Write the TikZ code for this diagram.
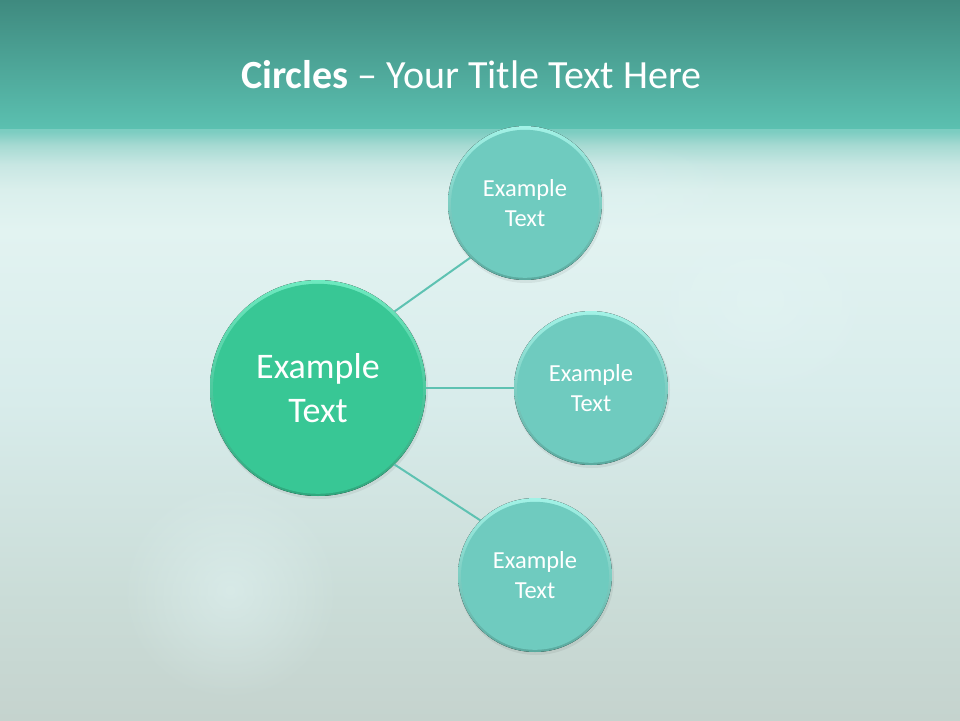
\documentclass[tikz,border=0pt]{standalone}
\usepackage{fontspec}
\setmainfont{Carlito}
\usetikzlibrary{shadings,fadings}
\definecolor{bandtop}{HTML}{3F8A7F}
\definecolor{bandbot}{HTML}{5BC0B0}
\definecolor{bgA}{HTML}{7CCDC1}
\definecolor{bgB}{HTML}{A5DAD2}
\definecolor{bgC}{HTML}{C8E7E3}
\definecolor{bgC2}{HTML}{DAEFEC}
\definecolor{bgD}{HTML}{E2F3F1}
\definecolor{bgE}{HTML}{D8ECEB}
\definecolor{bgF}{HTML}{CADCD7}
\definecolor{bgG}{HTML}{C5D3CE}
\definecolor{smallfill}{HTML}{6FCBBF}
\definecolor{smalllight}{HTML}{A2F2E6}
\definecolor{smalldark}{HTML}{5AAA9F}
\definecolor{bigfill}{HTML}{38C795}
\definecolor{biglight}{HTML}{6EEAC0}
\definecolor{bigdark}{HTML}{2FA77D}
\definecolor{linkcol}{HTML}{5EC2B2}
\definecolor{blob}{HTML}{E4F6F6}
\tikzfading[name=softfade, inner color=transparent!0, outer color=transparent!100]
\pgfdeclareverticalshading{bgshade}{100bp}{color(0bp)=(bgG); color(25bp)=(bgG); color(35bp)=(bgF); color(52bp)=(bgE); color(66.4bp)=(bgD); color(69.8bp)=(bgC2); color(71.9bp)=(bgC); color(73.6bp)=(bgB); color(74.7bp)=(bgA); color(75bp)=(bgA); color(100bp)=(bgA)}
\tikzset{
  smallcirc/.style={circle, minimum size=154pt, inner sep=0pt, text=white, align=center,
    font=\fontsize{24.5}{30}\selectfont,
    path picture={
      \fill[top color=smalllight, bottom color=smalldark] (path picture bounding box.south west) rectangle (path picture bounding box.north east);
      \fill[smallfill] ([yshift=-0.8pt]path picture bounding box.center) circle[radius=74pt];
    }},
  bigcirc/.style={circle, minimum size=216pt, inner sep=0pt, text=white, align=center,
    font=\fontsize{36}{44}\selectfont,
    path picture={
      \fill[top color=biglight, bottom color=bigdark] (path picture bounding box.south west) rectangle (path picture bounding box.north east);
      \fill[bigfill] ([yshift=-0.8pt]path picture bounding box.center) circle[radius=105pt];
    }},
  shadowc/.style={fill=black, opacity=0.06},
  link/.style={draw=linkcol, line width=2pt},
  softblob/.style={fill=blob, path fading=softfade},
  titletext/.style={text=white, font=\fontsize{40}{46}\selectfont, anchor=base west, inner sep=0pt}
}
\begin{document}
\begin{tikzpicture}[x=1pt,y=-1pt]
\useasboundingbox (0,0) rectangle (960,720);
% background
\shade[shading=bgshade] (0,128) rectangle (960,720);
\fill[top color=bandtop, bottom color=bandbot] (0,0) rectangle (960,128);
% soft blobs
\fill[softblob, opacity=0.5] (230,590) ellipse[x radius=110pt, y radius=110pt];
\fill[softblob, opacity=0.4] (760,300) ellipse[x radius=140pt, y radius=110pt];
\fill[softblob, opacity=0.3] (620,200) ellipse[x radius=140pt, y radius=60pt];
% title
\node[titletext] (title) at (241,88) {\textbf{Circles} – Your Title Text Here};
% shadows
\fill[shadowc] (319,390) circle[radius=109pt];
\fill[shadowc] (526,205) circle[radius=78pt];
\fill[shadowc] (592,390) circle[radius=78pt];
\fill[shadowc] (536,577) circle[radius=78pt];
% links
\coordinate (c0) at (318,388);
\coordinate (t0) at (525,203);
\coordinate (b0) at (535,575);
% circles
\node[bigcirc] (c) at (c0) {Example\\Text};
\node[smallcirc] (t) at (t0) {Example\\Text};
\node[smallcirc] (m) at (591,388) {Example\\Text};
\node[smallcirc] (b) at (b0) {Example\\Text};
\draw[link] (c.45) -- (t.225);
\draw[link] (c.0) -- (m.180);
\draw[link] (c.-45) -- (b.135);
\end{tikzpicture}
\end{document}
